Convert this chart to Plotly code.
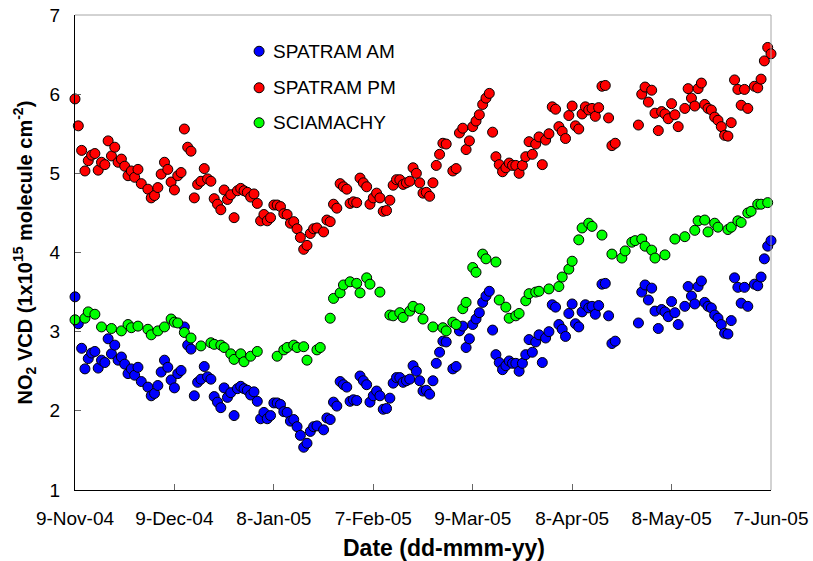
import pandas as pd
import plotly.graph_objects as go

# Day offsets from the first observation date and NO2 vertical column densities (x1e15 molecule cm-2)
START_DATE = "2004-11-09"

am_days = [0, 1, 2, 3, 4, 5, 6, 7, 8, 9, 10, 11, 12, 13, 14, 15, 16, 17, 18, 19, 20,
           22, 23, 24, 25, 26, 27, 28, 29, 30, 31, 32, 33, 34, 35, 36, 37, 38, 39, 40,
           41, 42, 43, 44, 45, 46, 47, 48, 49, 50, 51, 52, 53, 54, 55, 56, 57, 58, 59,
           60, 61, 62, 63, 64, 65, 66, 67, 68, 69, 70, 71, 72, 73,
           75, 76, 77, 78, 79, 80, 81, 82, 83, 84, 85, 86, 87, 88, 89, 90, 91, 92, 93,
           94, 95, 96, 97, 98, 99, 100, 101, 102, 103, 104, 105, 106, 107, 108, 109,
           110, 111, 112,
           114, 115, 116, 117, 118, 119, 120, 121, 122, 123, 124, 125, 126, 127, 128,
           129, 130, 131, 132, 133, 134, 135, 136, 137, 138, 139, 140, 141, 142, 143,
           144, 145, 146, 147, 148, 149, 150, 151, 152, 153, 154, 155, 156, 157, 158,
           159, 160, 161, 162, 163,
           170, 171, 172, 173, 174, 175, 176, 177, 178, 179, 180, 181, 182,
           184, 185, 186, 187, 188, 189, 190, 191, 192, 193, 194, 195, 196, 197, 198,
           199, 200, 201, 202, 203,
           205, 206, 207, 208, 209, 210]

am_vcd = [3.44, 3.10, 2.79, 2.53, 2.66, 2.73, 2.75, 2.54, 2.64, 2.61, 2.91, 2.72, 2.83, 2.64,
          2.68, 2.59, 2.47, 2.53, 2.45, 2.55, 2.37,
          2.30, 2.19, 2.22, 2.32, 2.49, 2.64, 2.55, 2.39, 2.29, 2.47, 2.51, 3.06, 2.83, 2.78,
          2.19, 2.36, 2.40, 2.56, 2.43, 2.40, 2.18, 2.11, 2.04, 2.29, 2.17, 2.23, 1.94, 2.28,
          2.31, 2.28, 2.26, 2.20, 2.24, 2.12, 1.90, 1.98, 1.90, 1.94, 2.10, 2.10, 2.08, 1.99,
          1.98, 1.87, 1.89, 1.80, 1.69, 1.54, 1.59, 1.74, 1.80, 1.81,
          1.76, 1.91, 1.89, 2.11, 2.06, 2.37, 2.33, 2.30, 2.12, 2.14, 2.13, 2.44, 2.38, 2.33,
          2.11, 2.19, 2.25, 2.19, 2.02, 2.03, 2.16, 2.35, 2.42, 2.42, 2.36, 2.38, 2.40, 2.57,
          2.50, 2.38, 2.25, 2.26, 2.21, 2.38, 2.60, 2.74, 2.88, 2.87,
          2.53, 2.56, 3.01, 3.07, 2.80, 2.91, 3.09, 3.16, 3.24, 3.37, 3.45, 3.51, 3.02, 2.71,
          2.61, 2.52, 2.57, 2.63, 2.60, 2.60, 2.50, 2.60, 2.71, 2.90, 2.74, 2.87, 2.96, 2.61,
          2.92, 3.00, 3.34, 3.31, 3.09, 3.03, 2.94, 3.23, 3.35, 3.10, 3.06, 3.25, 3.34, 3.30,
          3.32, 3.22, 3.33, 3.60, 3.61, 3.20, 2.85, 2.88,
          3.11, 3.50, 3.59, 3.40, 3.55, 3.26, 3.04, 3.28, 3.25, 3.19, 3.38, 3.24, 3.09,
          3.32, 3.57, 3.45, 3.35, 3.57, 3.64, 3.37, 3.32, 3.30, 3.21, 3.17, 3.09, 2.98, 2.97,
          3.14, 3.68, 3.56, 3.36, 3.56, 3.32,
          3.60, 3.58, 3.69, 3.92, 4.08, 4.15]

pm_days = list(am_days)

pm_vcd = [5.94, 5.60, 5.29, 5.03, 5.16, 5.23, 5.25, 5.04, 5.14, 5.11, 5.41, 5.22, 5.33, 5.14,
          5.18, 5.09, 4.97, 5.03, 4.95, 5.05, 4.87,
          4.80, 4.69, 4.72, 4.82, 4.99, 5.14, 5.05, 4.89, 4.79, 4.97, 5.01, 5.56, 5.33, 5.28,
          4.69, 4.86, 4.90, 5.06, 4.93, 4.90, 4.68, 4.61, 4.54, 4.79, 4.67, 4.73, 4.44, 4.78,
          4.81, 4.78, 4.76, 4.70, 4.74, 4.62, 4.40, 4.48, 4.40, 4.44, 4.60, 4.60, 4.58, 4.49,
          4.48, 4.37, 4.39, 4.30, 4.19, 4.04, 4.09, 4.24, 4.30, 4.31,
          4.26, 4.41, 4.39, 4.61, 4.56, 4.87, 4.83, 4.80, 4.62, 4.64, 4.63, 4.94, 4.88, 4.83,
          4.61, 4.69, 4.75, 4.69, 4.52, 4.53, 4.66, 4.85, 4.92, 4.92, 4.86, 4.88, 4.90, 5.07,
          5.00, 4.88, 4.75, 4.76, 4.71, 4.88, 5.10, 5.24, 5.38, 5.37,
          5.03, 5.06, 5.51, 5.57, 5.30, 5.41, 5.59, 5.66, 5.74, 5.87, 5.95, 6.01, 5.52, 5.21,
          5.11, 5.02, 5.07, 5.13, 5.10, 5.10, 5.00, 5.10, 5.21, 5.40, 5.24, 5.37, 5.46, 5.11,
          5.42, 5.50, 5.84, 5.81, 5.59, 5.53, 5.44, 5.73, 5.85, 5.60, 5.56, 5.75, 5.84, 5.80,
          5.82, 5.72, 5.83, 6.10, 6.11, 5.70, 5.35, 5.38,
          5.61, 6.00, 6.09, 5.90, 6.05, 5.76, 5.54, 5.78, 5.75, 5.69, 5.88, 5.74, 5.59,
          5.82, 6.07, 5.95, 5.85, 6.07, 6.14, 5.87, 5.82, 5.80, 5.71, 5.67, 5.59, 5.48, 5.47,
          5.64, 6.18, 6.06, 5.86, 6.06, 5.82,
          6.10, 6.08, 6.19, 6.42, 6.59, 6.51]

scia_days = [0, 3, 4, 6, 8, 11, 14, 16, 17, 19, 22, 23, 25, 27, 29, 30, 31, 33, 35, 38,
             41, 42, 44, 45, 47, 48, 50, 51, 53, 55, 61, 63, 64, 66, 67, 69, 70, 73, 74,
             77, 78, 80, 81, 83, 85, 86, 88, 89, 92, 95, 96, 98, 99, 101, 102, 104, 105,
             108, 111, 112, 114, 115, 117, 118, 120, 121, 123, 124, 127, 128, 130, 131,
             133, 134, 136, 137, 139, 140, 143, 146, 147, 149, 150, 152, 153, 155, 156,
             159, 162, 165, 166, 168, 169, 171, 172, 174, 175, 178, 181, 184, 187, 188,
             190, 191, 193, 194, 197, 198, 200, 201, 203, 204, 206, 207, 209]

scia_vcd = [3.15, 3.17, 3.25, 3.22, 3.06, 3.04, 3.01, 3.09, 3.05, 3.07, 3.03, 2.96, 3.01,
            3.06, 3.16, 3.12, 3.11, 2.99, 2.92, 2.82, 2.86, 2.84, 2.83, 2.80, 2.72, 2.65,
            2.72, 2.62, 2.69, 2.75, 2.69, 2.77, 2.80, 2.83, 2.80, 2.81, 2.64, 2.77, 2.80,
            3.17, 3.42, 3.49, 3.59, 3.63, 3.61, 3.49, 3.68, 3.60, 3.50, 3.21, 3.20, 3.24,
            3.18, 3.26, 3.32, 3.29, 3.16, 3.06, 3.05, 3.01, 3.12, 3.09, 3.29, 3.37, 3.81,
            3.75, 3.98, 3.92, 3.88, 3.40, 3.31, 3.17, 3.20, 3.23, 3.39, 3.48, 3.50, 3.51,
            3.54, 3.57, 3.69, 3.79, 3.89, 4.16, 4.31, 4.37, 4.33, 4.22, 3.98, 3.93, 4.02,
            4.13, 4.15, 4.17, 4.08, 4.03, 3.93, 3.97, 4.17, 4.20, 4.28, 4.40, 4.41, 4.26,
            4.37, 4.32, 4.29, 4.32, 4.40, 4.38, 4.50, 4.52, 4.61, 4.61, 4.63]

tick_days = [0, 30, 60, 90, 120, 150, 180, 210]
tick_labels = ["9-Nov-04", "9-Dec-04", "8-Jan-05", "7-Feb-05",
               "9-Mar-05", "8-Apr-05", "8-May-05", "7-Jun-05"]

series_names = ["SPATRAM AM", "SPATRAM PM", "SCIAMACHY"]
series_colors = ["#0000ff", "#ff0000", "#00ff00"]

start = pd.Timestamp(START_DATE)


def to_dates(days):
    return start + pd.to_timedelta(days, unit="D")


FONT = "Liberation Sans, Arial, Helvetica, sans-serif"

fig = go.Figure()
for name, days, vals, color in zip(series_names,
                                   [am_days, pm_days, scia_days],
                                   [am_vcd, pm_vcd, scia_vcd],
                                   series_colors):
    fig.add_trace(go.Scatter(
        x=to_dates(days), y=vals, name=name, mode="markers",
        cliponaxis=False,
        marker=dict(size=10, color=color, line=dict(color="black", width=1)),
    ))

# Legend drawn as marker circles and text labels inside the plot area
legend_x = 0.2645          # paper fraction of the marker centre
legend_rows = [0.9237, 0.8468, 0.7732]
annotations = []
shapes = []
for name, color, ly in zip(series_names, series_colors, legend_rows):
    shapes.append(dict(type="circle", xref="paper", yref="paper",
                       xsizemode="pixel", ysizemode="pixel",
                       xanchor=legend_x, yanchor=ly,
                       x0=-5, x1=5, y0=-5, y1=5,
                       fillcolor=color, line=dict(color="black", width=1)))
    annotations.append(dict(x=legend_x, y=ly, xref="paper", yref="paper",
                            xshift=12, xanchor="left", yanchor="middle",
                            text=name, showarrow=False,
                            font=dict(family=FONT, size=19, color="black")))

# Grey top and right frame lines
shapes.append(dict(type="line", xref="paper", yref="paper", x0=0, x1=1, y0=1, y1=1,
                   line=dict(color="#a6a6a6", width=1)))
shapes.append(dict(type="line", xref="paper", yref="paper", x0=1, x1=1, y0=0, y1=1,
                   line=dict(color="#a6a6a6", width=1)))

# Axis titles
annotations.append(dict(x=0.5295, y=-0.1221, xref="paper", yref="paper",
                        xanchor="center", yanchor="middle", showarrow=False,
                        text="<b>Date (dd-mmm-yy)</b>",
                        font=dict(family=FONT, size=23, color="black")))
annotations.append(dict(x=-0.072, y=0.5, xref="paper", yref="paper",
                        xanchor="center", yanchor="middle", showarrow=False,
                        textangle=-90,
                        text="<b>NO<sub>2</sub> VCD (1x10<sup>15</sup> molecule cm<sup>-2</sup>)</b>",
                        font=dict(family=FONT, size=20, color="black")))

fig.update_layout(
    width=813, height=561,
    margin=dict(l=75, r=42, t=15, b=71, autoexpand=False),
    paper_bgcolor="white", plot_bgcolor="white",
    showlegend=False,
    font=dict(family=FONT, size=19, color="black"),
    shapes=shapes, annotations=annotations,
)

fig.update_xaxes(
    range=[to_dates([0])[0], to_dates([210])[0]],
    tickmode="array", tickvals=to_dates(tick_days), ticktext=tick_labels,
    ticks="inside", ticklen=6, tickcolor="#666666", tickwidth=1,
    showline=True, linecolor="black", linewidth=1,
    showgrid=False, zeroline=False, automargin=False,
    ticklabelstandoff=11,
)
fig.update_yaxes(
    range=[1, 7], tickmode="linear", tick0=1, dtick=1,
    ticks="inside", ticklen=6, tickcolor="#666666", tickwidth=1,
    showline=True, linecolor="black", linewidth=1,
    showgrid=False, zeroline=False, automargin=False,
    ticklabelstandoff=10,
)

fig.write_html("out.html")
